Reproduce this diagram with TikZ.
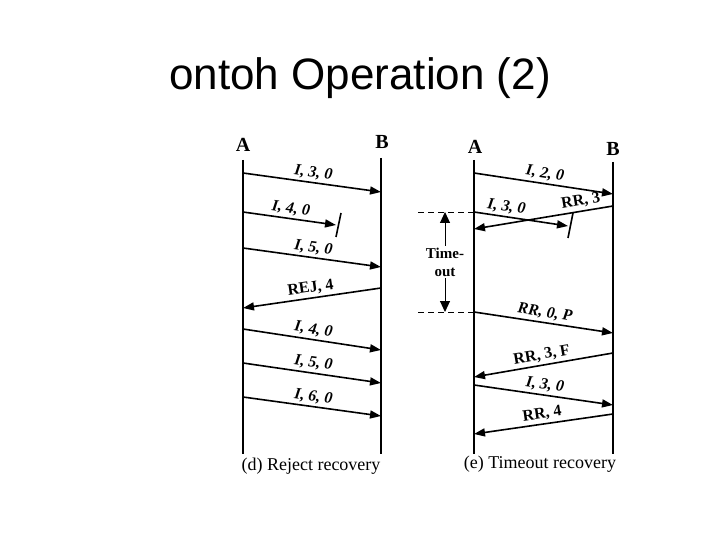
\documentclass[tikz,border=0pt]{standalone}
\usepackage{fontspec}
\setmainfont{Liberation Serif}
\newfontfamily\titlefont{Liberation Sans}
\usetikzlibrary{positioning, arrows.meta}

\begin{document}
\begin{tikzpicture}[x=1pt, y=-1pt,
  life/.style={line width=2.6pt},
  msg/.style={line width=1.6pt, -{Triangle[length=11pt,width=8pt]}},
  lbl/.style={font=\fontsize{16}{16}\selectfont\bfseries\itshape, inner sep=2.5pt},
  lblr/.style={font=\fontsize{16}{16}\selectfont\bfseries, inner sep=2.5pt},
  head/.style={font=\fontsize{20}{20}\selectfont\bfseries},
  capt/.style={font=\fontsize{18}{18}\selectfont}]
  \useasboundingbox (0,0) rectangle (720,540);
  \node[anchor=base, font=\titlefont\fontsize{44}{44}\selectfont] (title) at (360,90) {ontoh Operation (2)};

  % (d) reject recovery
  \node[head] (dA) at (243,145) {A};
  \node[head] (dB) at (382,142) {B};
  \coordinate (dAt) at (243,160); \coordinate (dAb) at (243,454);
  \coordinate (dBt) at (381,158); \coordinate (dBb) at (381,454);
  \draw[life] (dAt) -- (dAb);
  \draw[life] (dBt) -- (dBb);
  \coordinate (d1s) at (243,173); \coordinate (d1e) at (381,192);
  \coordinate (d2s) at (243,212); \coordinate (d2e) at (336,225);
  \coordinate (d3s) at (243,248); \coordinate (d3e) at (381,267);
  \coordinate (d4s) at (381,288); \coordinate (d4e) at (243,308);
  \coordinate (d5s) at (243,329); \coordinate (d5e) at (381,350);
  \coordinate (d6s) at (243,363); \coordinate (d6e) at (381,383);
  \coordinate (d7s) at (243,397); \coordinate (d7e) at (381,416);
  \draw[msg] (d1s) -- node[lbl, midway, above, sloped] (dl1) {I, 3, 0} (d1e);
  \draw[msg] (d2s) -- node[lbl, midway, above, sloped] (dl2) {I, 4, 0} (d2e);
  \draw[msg] (d3s) -- node[lbl, midway, above, sloped] (dl3) {I, 5, 0} (d3e);
  \draw[msg] (d4s) -- node[lblr, midway, above, sloped] (dl4) {REJ, 4} (d4e);
  \draw[msg] (d5s) -- node[lbl, midway, above, sloped] (dl5) {I, 4, 0} (d5e);
  \draw[msg] (d6s) -- node[lbl, midway, above, sloped] (dl6) {I, 5, 0} (d6e);
  \draw[msg] (d7s) -- node[lbl, midway, above, sloped] (dl7) {I, 6, 0} (d7e);
  \coordinate (dx1) at (341,213); \coordinate (dx2) at (336,237);
  \draw[line width=1.6pt] (dx1) -- (dx2);
  \node[capt] (dcap) at (311,466) {(d) Reject recovery};

  % (e) timeout recovery
  \node[head] (eA) at (475,147) {A};
  \node[head] (eB) at (613,149) {B};
  \coordinate (eAt) at (474,160); \coordinate (eAb) at (474,454);
  \coordinate (eBt) at (613,162); \coordinate (eBb) at (613,454);
  \draw[life] (eAt) -- (eAb);
  \draw[life] (eBt) -- (eBb);
  \coordinate (e1s) at (474,173); \coordinate (e1e) at (613,194);
  \coordinate (e2s) at (474,212); \coordinate (e2e) at (568,226);
  \coordinate (e3s) at (613,206); \coordinate (e3e) at (474,229);
  \coordinate (e4s) at (474,312); \coordinate (e4e) at (613,333);
  \coordinate (e5s) at (613,353); \coordinate (e5e) at (474,377);
  \coordinate (e6s) at (474,385); \coordinate (e6e) at (613,405);
  \coordinate (e7s) at (613,414); \coordinate (e7e) at (474,434);
  \draw[msg] (e1s) -- node[lbl, midway, above, sloped] (el1) {I, 2, 0} (e1e);
  \draw[msg] (e2s) -- node[lbl, pos=0.33, above, sloped] (el2) {I, 3, 0} (e2e);
  \draw[msg] (e3s) -- node[lblr, pos=0.22, above, sloped] (el3) {RR, 3} (e3e);
  \draw[msg] (e4s) -- node[lbl, midway, above, sloped] (el4) {RR, 0, P} (e4e);
  \draw[msg] (e5s) -- node[lblr, midway, above, sloped] (el5) {RR, 3, F} (e5e);
  \draw[msg] (e6s) -- node[lbl, midway, above, sloped] (el6) {I, 3, 0} (e6e);
  \draw[msg] (e7s) -- node[lblr, midway, above, sloped] (el7) {RR, 4} (e7e);
  \coordinate (ex1) at (573,213); \coordinate (ex2) at (568,238);
  \draw[line width=1.6pt] (ex1) -- (ex2);
  % timeout interval
  \coordinate (tt) at (418,212); \coordinate (tb) at (418,312);
  \coordinate (tup) at (445,212); \coordinate (tdn) at (445,312);
  \draw[line width=0.8pt, dash pattern=on 6pt off 4pt] (tt) -- (e2s);
  \draw[line width=0.8pt, dash pattern=on 6pt off 4pt] (tb) -- (e4s);
  \node[align=center, font=\fontsize{15}{18}\selectfont\bfseries, inner sep=2pt] (tmo) at (445,262) {Time-\\out};
  \draw[line width=1pt, -{Triangle[length=11pt,width=10pt]}] (tmo.north) -- (tup);
  \draw[line width=1pt, -{Triangle[length=11pt,width=10pt]}] (tmo.south) -- (tdn);
  \node[capt] (ecap) at (540,464) {(e) Timeout recovery};
\end{tikzpicture}
\end{document}
